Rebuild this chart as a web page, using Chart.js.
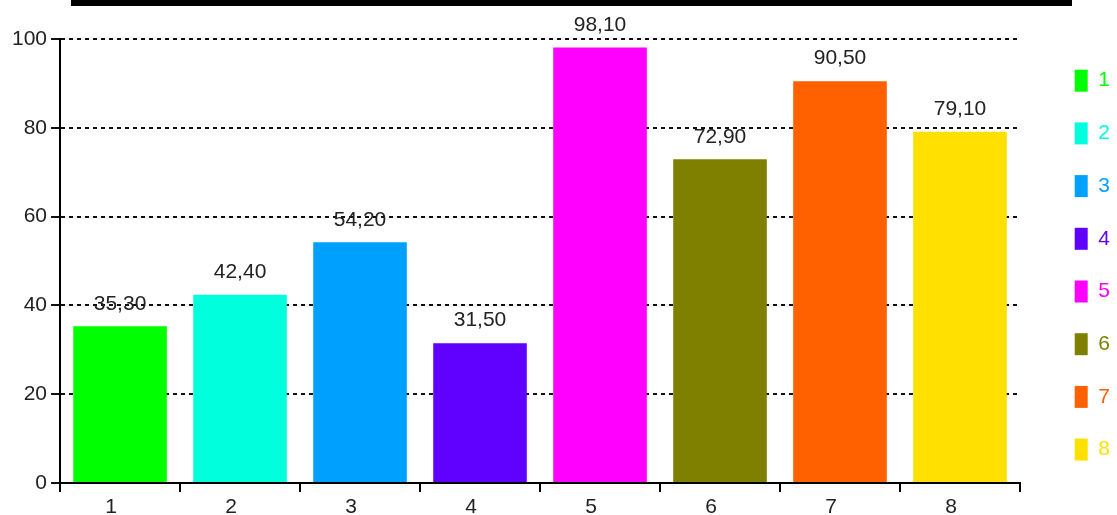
<!DOCTYPE html>
<html>
<head>
<meta charset="utf-8">
<script src="https://cdn.jsdelivr.net/npm/chart.js@4.4.1/dist/chart.umd.min.js"></script>
<style>
  html, body { margin: 0; padding: 0; background: #fff; }
  #wrap { position: relative; width: 1117px; height: 515px; }
  #topbar { position: absolute; left: 71px; top: 0; width: 1001px; height: 6px; background: #000; }
</style>
</head>
<body>
<div id="wrap">
  <canvas id="chart" width="1117" height="515"></canvas>
  <div id="topbar"></div>
</div>
<script>
// Data
const categories = ["1", "2", "3", "4", "5", "6", "7", "8"];
const values = [35.3, 42.4, 54.2, 31.5, 98.1, 72.9, 90.5, 79.1];
const barColors = ["#00ff00", "#00ffdd", "#00a0ff", "#6000ff", "#ff00ff", "#808000", "#ff6000", "#ffe000"];
const yTicks = [0, 20, 40, 60, 80, 100];

const textColor = "#222";
const font = { family: "'Liberation Sans', Arial, sans-serif", size: 21, lineHeight: 1 };

// value labels above the bars, comma as decimal mark
const valueLabels = {
  id: "valueLabels",
  afterDatasetsDraw(chart) {
    const ctx = chart.ctx;
    const meta = chart.getDatasetMeta(0);
    ctx.save();
    ctx.font = "21px 'Liberation Sans', Arial, sans-serif";
    ctx.fillStyle = textColor;
    ctx.textAlign = "center";
    ctx.textBaseline = "bottom";
    meta.data.forEach((bar, i) => {
      ctx.fillText(values[i].toFixed(2).replace(".", ","), bar.x, bar.y - 12);
    });
    ctx.restore();
  }
};

new Chart(document.getElementById("chart"), {
  type: "bar",
  data: {
    labels: categories,
    datasets: [{
      data: values,
      backgroundColor: barColors,
      borderWidth: 0,
      categoryPercentage: 1,
      barPercentage: 0.78
    }]
  },
  options: {
    responsive: false,
    animation: false,
    layout: { padding: { top: 39, left: 8, right: 0, bottom: 0 } },
    plugins: {
      tooltip: { enabled: false },
      legend: {
        position: "right",
        align: "start",
        maxWidth: 73,
        labels: {
          boxWidth: 13,
          boxHeight: 22,
          padding: 30.7,
          font: font,
          generateLabels: () => categories.map((c, i) => ({
            text: c,
            fillStyle: barColors[i],
            strokeStyle: barColors[i],
            fontColor: barColors[i],
            lineWidth: 0,
            index: i
          }))
        }
      }
    },
    scales: {
      x: {
        offset: true,
        grid: { offset: true, drawOnChartArea: false, color: "#000", tickLength: 9, lineWidth: 2 },
        border: { color: "#000", width: 2 },
        ticks: { color: textColor, font: font, padding: 5, labelOffset: -9 },
        afterFit: s => { s.height = 32; }
      },
      y: {
        min: 0,
        max: 100,
        afterBuildTicks: s => { s.ticks = yTicks.map(v => ({ value: v })); },
        grid: { color: "#111", lineWidth: 2, tickLength: 9, tickBorderDash: [] },
        border: { color: "#000", width: 2, dash: [4, 4] },
        ticks: { color: textColor, font: font, padding: 4 }
      },
      gap: {
        type: "linear",
        position: "right",
        grid: { display: false },
        border: { display: false },
        ticks: { display: false },
        afterFit: s => { s.width = 24; }
      }
    }
  },
  plugins: [valueLabels]
});
</script>
</body>
</html>
